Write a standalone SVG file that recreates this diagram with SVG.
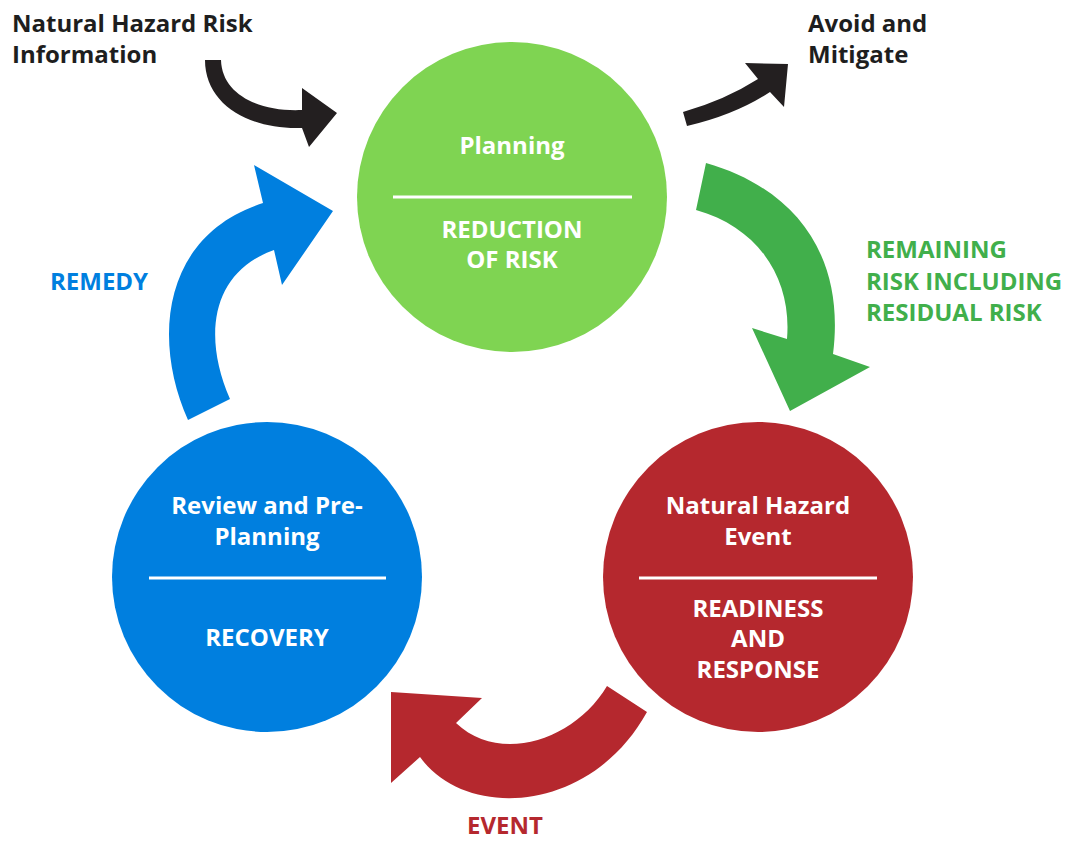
<svg xmlns="http://www.w3.org/2000/svg" width="1078" height="843" viewBox="0 0 1078 843">
<style>
text{font-family:"Open Sans","Noto Sans","Liberation Sans",sans-serif;font-weight:bold;font-size:24px}
.w{fill:#fff;text-anchor:middle}
.k{fill:#1e1e1e}
.div{stroke:#fff;stroke-width:3}
</style>
<rect width="1078" height="843" fill="#fff"/>
<g id="connectors">
<path id="arrow-info" fill="#231f20" d="M205,60 C205,105 250,130 302,128 L309,147 L337,113 L302,88 L302,110 C260,112 222,95 221,60 Z"/>
<path id="arrow-avoid" fill="#231f20" d="M683,112 Q725,100 758,79 L745,63 L788,64 L784,107 L770,92 Q735,115 687,126 Z"/>
<path id="arrow-remaining" fill="#41af4b" d="M706,163 C800,190 845,260 833,354 L870,367 L790,411 L752,328 L787,339 C792,280 760,228 696,210 Z"/>
<path id="arrow-event" fill="#b5282e" d="M607,686 C575,740 500,765 456,723 L482,698 L391,692 L391,783 L420,757 C465,820 590,815 647,712 Z"/>
<path id="arrow-remedy" fill="#007fdf" d="M188,420 C152,340 162,235 263,203 L254,165 L333,211 L282,285 L274,250 C212,272 202,335 230,399 Z"/>
</g>
<g id="label-info"><text class="k" x="12" y="32">Natural Hazard Risk</text><text class="k" x="12" y="63">Information</text></g>
<g id="label-avoid"><text class="k" x="808" y="32">Avoid and</text><text class="k" x="808" y="63">Mitigate</text></g>
<g id="label-remaining" fill="#41af4b"><text x="866" y="258">REMAINING</text><text x="866" y="290">RISK INCLUDING</text><text x="866" y="321">RESIDUAL RISK</text></g>
<g id="label-remedy"><text x="50" y="290" fill="#007fdf">REMEDY</text></g>
<g id="label-event"><text x="505" y="834" fill="#b5282e" text-anchor="middle">EVENT</text></g>
<g id="node-planning">
<circle cx="512" cy="197" r="155" fill="#7fd452"/>
<text class="w" x="512" y="154">Planning</text>
<line class="div" x1="393" y1="197" x2="632" y2="197"/>
<text class="w" x="512" y="238">REDUCTION</text>
<text class="w" x="512" y="268">OF RISK</text>
</g>
<g id="node-event">
<circle cx="758" cy="577" r="155" fill="#b5282e"/>
<text class="w" x="758" y="514">Natural Hazard</text>
<text class="w" x="758" y="545">Event</text>
<line class="div" x1="639" y1="578" x2="877" y2="578"/>
<text class="w" x="758" y="617">READINESS</text>
<text class="w" x="758" y="647">AND</text>
<text class="w" x="758" y="678">RESPONSE</text>
</g>
<g id="node-review">
<circle cx="267" cy="577" r="155" fill="#007fdf"/>
<text class="w" x="267" y="514">Review and Pre-</text>
<text class="w" x="267" y="545">Planning</text>
<line class="div" x1="149" y1="578" x2="386" y2="578"/>
<text class="w" x="267" y="646">RECOVERY</text>
</g>
</svg>
